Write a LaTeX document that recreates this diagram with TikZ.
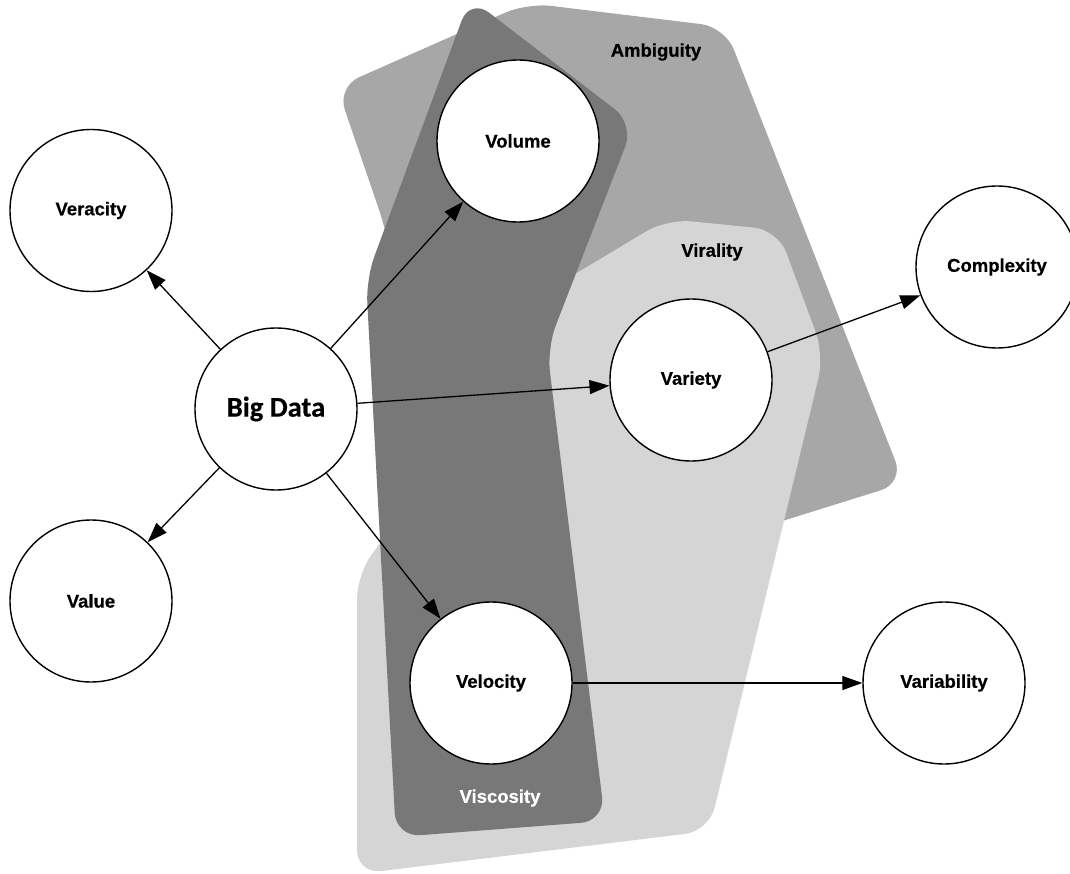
\documentclass[tikz,border=0pt]{standalone}
\usepackage{fontspec}
\setmainfont{Liberation Sans}
\newfontfamily\labelfont{Liberation Sans Bold}[FakeBold=0.5]
\newfontfamily\bigfont{Carlito Bold}[FakeBold=0.4]
\usetikzlibrary{arrows.meta}

\definecolor{ambig}{HTML}{A7A7A7}
\definecolor{viscos}{HTML}{787878}
\definecolor{viral}{HTML}{D5D5D5}

\begin{document}
\begin{tikzpicture}[x=1pt,y=-1pt,
  concept/.style={circle, draw=black, line width=1.4pt, fill=white, minimum size=162pt, inner sep=0pt, font=\labelfont\fontsize{18.5}{20}\selectfont},
  link/.style={line width=1.3pt, -{Triangle[length=20pt,width=14pt]}},
  area/.style={rounded corners=24pt},
  tag/.style={font=\labelfont\fontsize{18.5}{20}\selectfont}
]
\useasboundingbox (0,0) rectangle (1070,874);
\fill[ambig, area] (337,87) -- (527,3) -- (725,27) -- (904,483) -- (760,528) -- (450,560) -- (386,230) -- cycle;
\fill[viral, area] (667,219) -- (778,230) -- (824,355) -- (709,831) -- (357,874) -- (357,575) -- (400,515) -- (540,295) -- cycle;
\fill[viscos, area] (470,-2) -- (634,124) -- (547,348) -- (605,821) -- (396,837) -- (366,279) -- cycle;

\node[tag] (ambiguity) at (656,52) {Ambiguity};
\node[tag] (virality) at (712,252) {Virality};
\node[tag, text=white] (viscosity) at (500,798) {Viscosity};

\node[concept] (veracity) at (91,210.5) {Veracity};
\node[concept] (value) at (91,601) {Value};
\node[concept, font=\bigfont\fontsize{28.5}{30}\selectfont] (bigdata) at (276,409) {Big Data};
\node[concept] (volume) at (518,141) {Volume};
\node[concept] (variety) at (691,380) {Variety};
\node[concept] (complexity) at (997,267) {Complexity};
\node[concept] (velocity) at (491,683) {Velocity};
\node[concept] (variability) at (944,683) {Variability};

\draw[link] (bigdata) -- (veracity);
\draw[link] (bigdata) -- (value);
\draw[link] (bigdata) -- (volume);
\draw[link] (bigdata) -- (variety);
\draw[link] (bigdata) -- (velocity);
\draw[link] (variety) -- (complexity);
\draw[link] (velocity) -- (variability);
\end{tikzpicture}
\end{document}
